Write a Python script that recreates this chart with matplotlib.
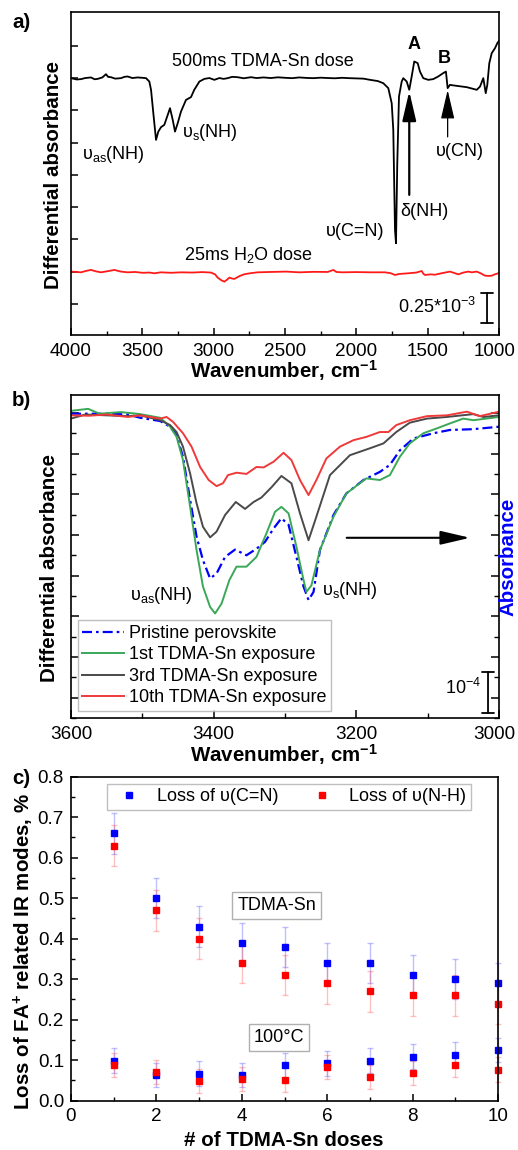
import numpy as np
import matplotlib
matplotlib.use('Agg')
import matplotlib.pyplot as plt
from matplotlib.ticker import MultipleLocator, FixedLocator, NullFormatter
from matplotlib.transforms import ScaledTranslation

plt.rcParams['font.family'] = ['Liberation Sans', 'DejaVu Sans']
plt.rcParams['mathtext.fontset'] = 'custom'
plt.rcParams['mathtext.rm'] = 'Liberation Sans'
plt.rcParams['mathtext.it'] = 'Liberation Sans:italic'
plt.rcParams['mathtext.bf'] = 'Liberation Sans:bold'
plt.rcParams['axes.linewidth'] = 1.2
FS = 13      # annotation / legend text
TFS = 13.6   # tick labels
LFS = 14.8   # bold axis labels

# ---------------- Panel a data (wavenumber cm-1, differential absorbance x1e-3, offset) ----
a_tdma_wn = [4000, 3960, 3930, 3900, 3860, 3835, 3813, 3780, 3755, 3740, 3720, 3690, 3650, 3625,
             3603, 3570, 3533, 3500, 3474, 3451, 3439, 3423, 3404, 3388, 3369, 3346, 3322, 3306,
             3287, 3271, 3252, 3229, 3194, 3159, 3136, 3100, 3065, 3030, 2995, 2960, 2930, 2902,
             2870, 2832, 2790, 2738, 2700, 2650, 2600, 2550, 2500, 2450, 2400, 2350, 2300, 2250,
             2200, 2150, 2100, 2050, 2000, 1950, 1904, 1850, 1811, 1776, 1752, 1741, 1729, 1722,
             1713, 1701, 1682, 1671, 1647, 1629, 1612, 1594, 1570, 1554, 1531, 1496, 1461, 1426,
             1391, 1372, 1360, 1344, 1297, 1226, 1156, 1133, 1110, 1093, 1082, 1068, 1051, 1028,
             1012, 1000]
a_tdma_abs = [2.139, 2.128, 2.131, 2.140, 2.145, 2.130, 2.133, 2.145, 2.172, 2.150, 2.147, 2.135,
              2.139, 2.150, 2.153, 2.140, 2.145, 2.142, 2.139, 2.111, 2.042, 1.848, 1.625, 1.694,
              1.731, 1.750, 1.833, 1.889, 1.792, 1.694, 1.764, 1.861, 1.958, 1.981, 2.042, 2.111,
              2.133, 2.140, 2.125, 2.140, 2.133, 2.139, 2.150, 2.147, 2.138, 2.147, 2.140, 2.145,
              2.140, 2.146, 2.142, 2.139, 2.145, 2.141, 2.139, 2.143, 2.140, 2.138, 2.142, 2.139,
              2.137, 2.135, 2.125, 2.115, 2.097, 2.056, 1.930, 1.708, 0.875, 0.764, 1.430, 1.986,
              2.111, 2.139, 2.111, 2.042, 2.153, 2.278, 2.264, 2.194, 2.139, 2.125, 2.131, 2.153,
              2.181, 2.194, 2.056, 2.083, 2.075, 2.064, 2.042, 2.069, 2.139, 2.014, 2.083, 2.264,
              2.347, 2.389, 2.430, 2.450]

a_h2o_wn = [4000, 3960, 3930, 3890, 3860, 3825, 3790, 3740, 3696, 3650, 3603, 3550, 3500, 3450,
            3416, 3370, 3300, 3229, 3150, 3080, 3019, 2990, 2972, 2945, 2925, 2905, 2890, 2870,
            2855, 2820, 2785, 2740, 2692, 2600, 2493, 2400, 2300, 2200, 2161, 2140, 2100, 2000,
            1900, 1799, 1760, 1729, 1700, 1636, 1580, 1542, 1530, 1519, 1480, 1449, 1400, 1343,
            1310, 1285, 1250, 1215, 1190, 1157, 1130, 1098, 1075, 1051, 1030, 1005, 1000]
a_h2o_abs = [0.528, 0.525, 0.522, 0.535, 0.542, 0.530, 0.522, 0.532, 0.542, 0.528, 0.522, 0.525,
             0.518, 0.520, 0.514, 0.522, 0.518, 0.522, 0.520, 0.524, 0.520, 0.505, 0.478, 0.455,
             0.444, 0.462, 0.478, 0.470, 0.467, 0.490, 0.506, 0.515, 0.522, 0.525, 0.528, 0.522,
             0.526, 0.525, 0.542, 0.525, 0.522, 0.524, 0.522, 0.522, 0.515, 0.500, 0.508, 0.514,
             0.520, 0.533, 0.510, 0.500, 0.505, 0.502, 0.515, 0.528, 0.515, 0.505, 0.520, 0.528,
             0.522, 0.528, 0.515, 0.494, 0.492, 0.494, 0.505, 0.514, 0.520]

# ---------------- Panel b data (x1e-4, offset) ----------------
b_red_wn = [3600, 3575, 3550, 3520, 3503, 3489, 3475, 3466, 3457, 3443, 3431, 3419, 3407, 3396,
            3387, 3380, 3368, 3354, 3340, 3330, 3316, 3302, 3291, 3279, 3267, 3256, 3242, 3223,
            3204, 3186, 3167, 3155, 3144, 3125, 3101, 3073, 3045, 3027, 3000]
b_red = [6.94, 6.93, 6.96, 6.90, 6.94, 6.90, 6.86, 6.90, 6.78, 6.50, 6.17, 5.67, 5.35, 5.20,
         5.27, 5.47, 5.53, 5.50, 5.67, 5.66, 5.80, 6.02, 5.84, 5.35, 4.98, 5.35, 5.88, 6.17,
         6.33, 6.41, 6.53, 6.53, 6.70, 6.82, 6.92, 6.94, 7.03, 6.92, 7.03]

b_gray_wn = [3600, 3580, 3550, 3520, 3503, 3475, 3461, 3452, 3443, 3433, 3424, 3415, 3405, 3396,
             3384, 3369, 3356, 3344, 3333, 3319, 3305, 3291, 3279, 3267, 3256, 3237, 3209, 3181,
             3162, 3144, 3125, 3101, 3073, 3036, 3022, 3000]
b_gray = [6.86, 6.96, 6.94, 6.92, 6.94, 6.82, 6.70, 6.53, 6.17, 5.51, 4.78, 4.20, 3.94, 4.08,
          4.49, 4.81, 4.64, 4.81, 4.92, 5.17, 5.45, 5.27, 4.53, 3.87, 4.45, 5.47, 5.96, 6.13,
          6.25, 6.53, 6.76, 6.86, 6.90, 6.97, 6.90, 6.94]

b_green_wn = [3600, 3576, 3560, 3530, 3503, 3475, 3461, 3452, 3443, 3433, 3424, 3415, 3405, 3398,
              3389, 3378, 3368, 3354, 3340, 3326, 3314, 3305, 3295, 3284, 3274, 3270, 3263, 3251,
              3232, 3214, 3186, 3167, 3153, 3139, 3125, 3106, 3087, 3069, 3050, 3036, 3000]
b_green = [7.05, 7.10, 6.98, 7.02, 6.97, 6.88, 6.66, 6.41, 5.84, 4.69, 3.63, 2.73, 2.23, 2.07,
           2.31, 2.89, 3.22, 3.22, 3.46, 4.04, 4.57, 4.69, 4.53, 3.71, 2.89, 2.60, 2.76, 3.63,
           4.45, 5.02, 5.39, 5.35, 5.47, 5.92, 6.25, 6.50, 6.62, 6.74, 6.86, 6.82, 6.90]

b_blue_wn = [3600, 3550, 3520, 3503, 3475, 3461, 3452, 3443, 3433, 3424, 3415, 3405, 3396, 3384,
             3370, 3354, 3340, 3328, 3316, 3305, 3295, 3284, 3274, 3267, 3260, 3251, 3232, 3214,
             3190, 3167, 3153, 3139, 3120, 3092, 3069, 3036, 3000]
b_blue = [6.98, 6.98, 6.96, 6.88, 6.80, 6.66, 6.45, 5.92, 4.86, 3.96, 3.38, 2.93, 3.05, 3.46,
          3.64, 3.50, 3.66, 3.83, 4.16, 4.41, 4.25, 3.46, 2.73, 2.40, 2.60, 3.63, 4.49, 5.02,
          5.35, 5.55, 5.72, 6.08, 6.37, 6.50, 6.58, 6.60, 6.66]

b_legend = ['Pristine perovskite', '1st TDMA-Sn exposure', '3rd TDMA-Sn exposure',
            '10th TDMA-Sn exposure']

# ---------------- Panel c data ----------------
doses = [1, 2, 3, 4, 5, 6, 7, 8, 9, 10]
cn_tdma = [0.66, 0.50, 0.43, 0.39, 0.38, 0.34, 0.34, 0.31, 0.30, 0.29]
nh_tdma = [0.63, 0.47, 0.40, 0.34, 0.31, 0.29, 0.27, 0.26, 0.26, 0.24]
err_tdma = [0.05] * 10
cn_100c = [0.099, 0.064, 0.067, 0.064, 0.087, 0.092, 0.099, 0.109, 0.114, 0.126]
nh_100c = [0.089, 0.071, 0.049, 0.054, 0.052, 0.084, 0.059, 0.069, 0.089, 0.077]
err_100c = [0.03] * 10
c_legend = ['Loss of υ(C=N)', 'Loss of υ(N-H)']

# ---------------- Figure ----------------
W, H = 518, 1150
fig = plt.figure(figsize=(W / 100, H / 100), dpi=100)

def fx(px):
    return px / W

def fy(py):
    return 1 - py / H

axa = fig.add_axes([fx(71), fy(335), 428 / W, 323 / H])
axb = fig.add_axes([fx(71), fy(718), 428 / W, 323 / H])
axc = fig.add_axes([fx(71), fy(1100.7), 427 / W, 324 / H])

# ---- Panel a ----
axa.plot(a_tdma_wn, a_tdma_abs, color='black', lw=1.3)
axa.plot(a_h2o_wn, a_h2o_abs, color='#ff1a1a', lw=1.3)
axa.set_xlim(4000, 1000)
axa.set_ylim(0, 2.69)
axa.xaxis.set_major_locator(MultipleLocator(500))
axa.xaxis.set_minor_locator(MultipleLocator(250))
axa.yaxis.set_major_locator(FixedLocator(list(np.arange(0.258, 2.5, 0.269))))
axa.yaxis.set_major_formatter(NullFormatter())
axa.tick_params(axis='both', which='major', direction='in', length=5, width=1.1,
                labelsize=TFS, pad=5.5, top=False, right=False)
axa.tick_params(axis='x', which='minor', direction='in', length=3, width=1.0, top=False)

axa.text(2654, 2.275, '500ms TDMA-Sn dose', fontsize=FS, ha='center', va='center')
axa.text(3706, 1.50, 'υ$_{\\rm as}$(NH)', fontsize=FS, ha='center', va='center')
axa.text(3222, 1.683, 'υ$_{\\rm s}$(NH)', fontsize=FS, ha='left', va='center')
axa.text(2759, 0.667, '25ms H$_2$O dose', fontsize=FS, ha='center', va='center')
axa.text(2009, 0.861, 'υ(C=N)', fontsize=FS, ha='center', va='center')
axa.text(1526, 1.028, 'δ(NH)', fontsize=FS, ha='center', va='center')
axa.text(1594, 2.417, 'A', fontsize=FS, ha='center', va='center', fontweight='bold')
axa.text(1385, 2.306, 'B', fontsize=FS, ha='center', va='center', fontweight='bold')
axa.text(1273, 1.528, 'υ(CN)', fontsize=FS, ha='center', va='center')
axa.text(1431, 0.236, '0.25*10$^{-3}$', fontsize=FS, ha='center', va='center')

axa.annotate('', xy=(1629, 2.03), xytext=(1629, 1.167),
             arrowprops=dict(arrowstyle='-|>,head_length=1.8,head_width=0.42', lw=1.6,
                             color='black', shrinkA=0, shrinkB=0, mutation_scale=10))
axa.annotate('', xy=(1360, 2.04), xytext=(1360, 1.65),
             arrowprops=dict(arrowstyle='-|>,head_length=1.8,head_width=0.42', lw=0.9,
                             color='black', shrinkA=0, shrinkB=0, mutation_scale=10))
axa.annotate('', xy=(1084, 0.10), xytext=(1084, 0.35),
             arrowprops=dict(arrowstyle='|-|,widthA=0.4,widthB=0.4', lw=1.3,
                             color='black', shrinkA=0, shrinkB=0, mutation_scale=10))

# ---- Panel b ----
colors_b = ['#0000ff', '#3aa857', '#4a4a4a', '#f03a3a']
lb1, = axb.plot(b_blue_wn, b_blue, color=colors_b[0], lw=1.6, dashes=(4.5, 1.8, 1.2, 1.8))
lb2, = axb.plot(b_green_wn, b_green, color=colors_b[1], lw=1.4)
lb3, = axb.plot(b_gray_wn, b_gray, color=colors_b[2], lw=1.4)
lb4, = axb.plot(b_red_wn, b_red, color=colors_b[3], lw=1.4)
axb.set_xlim(3600, 3000)
axb.set_ylim(-0.5, 7.44)
axb.xaxis.set_major_locator(MultipleLocator(200))
axb.xaxis.set_minor_locator(MultipleLocator(100))
axb.yaxis.set_major_locator(MultipleLocator(1))
axb.yaxis.set_minor_locator(MultipleLocator(0.5))
axb.yaxis.set_major_formatter(NullFormatter())
axb.tick_params(axis='both', which='major', direction='in', length=6, width=1.1,
                labelsize=TFS, pad=5.5, top=False, right=True)
axb.tick_params(axis='both', which='minor', direction='in', length=3.5, width=1.0,
                top=False, right=True)
leg_b = axb.legend([lb1, lb2, lb3, lb4], b_legend, loc='lower left',
                   bbox_to_anchor=(0.016, 0.022), borderaxespad=0, fontsize=FS,
                   handlelength=2.3, handletextpad=0.3, labelspacing=0.25,
                   borderpad=0.25, frameon=True, fancybox=False)
leg_b.get_frame().set_edgecolor('#b0b0b0')
leg_b.get_frame().set_linewidth(1.0)

axb.text(3473, 2.52, 'υ$_{\\rm as}$(NH)', fontsize=FS, ha='center', va='center')
axb.text(3209.6, 2.64, 'υ$_{\\rm s}$(NH)', fontsize=FS, ha='center', va='center')
axb.text(3025, 0.25, '10$^{-4}$', fontsize=FS, ha='right', va='center')
axb.annotate('', xy=(3040.6, 3.93), xytext=(3213.5, 3.93),
             arrowprops=dict(arrowstyle='-|>,head_length=1.8,head_width=0.42', lw=1.5,
                             color='black', shrinkA=0, shrinkB=0, mutation_scale=10))
axb.annotate('', xy=(3015.4, -0.37), xytext=(3015.4, 0.63),
             arrowprops=dict(arrowstyle='|-|,widthA=0.4,widthB=0.4', lw=1.3,
                             color='black', shrinkA=0, shrinkB=0, mutation_scale=10))

# ---- Panel c ----
eb1 = axc.errorbar(doses, cn_tdma, yerr=err_tdma, fmt='s', color='#0000ff', ms=4.3,
                   ecolor=(0.3, 0.3, 1.0, 0.35), elinewidth=1.0, capsize=2.5, clip_on=False)
eb2 = axc.errorbar(doses, nh_tdma, yerr=err_tdma, fmt='s', color='#ff0000', ms=4.3,
                   ecolor=(1.0, 0.3, 0.3, 0.35), elinewidth=1.0, capsize=2.5, clip_on=False)
eb3 = axc.errorbar(doses, cn_100c, yerr=err_100c, fmt='s', color='#0000ff', ms=4.3,
                   ecolor=(0.3, 0.3, 1.0, 0.35), elinewidth=1.0, capsize=2.5, clip_on=False)
eb4 = axc.errorbar(doses, nh_100c, yerr=err_100c, fmt='s', color='#ff0000', ms=4.3,
                   ecolor=(1.0, 0.3, 0.3, 0.35), elinewidth=1.0, capsize=2.5, clip_on=False)
axc.set_xlim(0, 10)
axc.set_ylim(0, 0.8)
axc.xaxis.set_major_locator(MultipleLocator(2))
axc.xaxis.set_minor_locator(MultipleLocator(1))
axc.yaxis.set_major_locator(MultipleLocator(0.1))
axc.yaxis.set_minor_locator(MultipleLocator(0.05))
axc.yaxis.set_major_formatter(plt.FuncFormatter(lambda v, p: f'{v:.1f}'))
axc.tick_params(axis='both', which='major', direction='in', length=5, width=1.1,
                labelsize=TFS, pad=5, top=False, right=False)
axc.tick_params(axis='both', which='minor', direction='in', length=3, width=1.0,
                top=False, right=False)
leg_c = axc.legend([eb1[0], eb2[0]], c_legend, loc='upper left', ncol=2,
                   bbox_to_anchor=(0.084, 0.978), borderaxespad=0, fontsize=FS,
                   handlelength=2.0, handletextpad=0.5, columnspacing=1.45,
                   borderpad=0.25, frameon=True, fancybox=False, markerscale=1.0)
leg_c.get_frame().set_edgecolor('#b0b0b0')
leg_c.get_frame().set_linewidth(1.0)

box = dict(boxstyle='square,pad=0.28', fc='white', ec='#b0b0b0', lw=1.0)
axc.text(4.82, 0.483, 'TDMA-Sn', fontsize=FS, ha='center', va='center', bbox=box)
axc.text(4.87, 0.155, '100°C', fontsize=FS, ha='center', va='center', bbox=box)

# ---- labels ----
fig.text(fx(54), fy(175), 'Differential absorbance', rotation=90, fontsize=LFS,
         fontweight='bold', ha='center', va='center')
fig.text(fx(49.5), fy(568), 'Differential absorbance', rotation=90, fontsize=LFS,
         fontweight='bold', ha='center', va='center')
fig.text(fx(23.5), fy(952), 'Loss of FA$^{\\mathbf{+}}$ related IR modes, %', rotation=90,
         fontsize=LFS, fontweight='bold', ha='center', va='center')
fig.text(fx(508), fy(557), 'Absorbance', rotation=90, fontsize=LFS, fontweight='bold',
         color='#0000ff', ha='center', va='center')
fig.text(fx(284), fy(371), 'Wavenumber, cm$^{\\mathbf{-1}}$', fontsize=LFS, fontweight='bold',
         ha='center', va='center')
fig.text(fx(284), fy(755), 'Wavenumber, cm$^{\\mathbf{-1}}$', fontsize=LFS, fontweight='bold',
         ha='center', va='center')
fig.text(fx(284), fy(1140), '# of TDMA-Sn doses', fontsize=LFS, fontweight='bold',
         ha='center', va='center')
fig.text(fx(12), fy(23), 'a)', fontsize=LFS, fontweight='bold', ha='left', va='center')
fig.text(fx(12), fy(400), 'b)', fontsize=LFS, fontweight='bold', ha='left', va='center')
fig.text(fx(12), fy(778), 'c)', fontsize=LFS, fontweight='bold', ha='left', va='center')

# keep the right-most wavenumber tick labels inside the image
fig.canvas.draw()
shift = ScaledTranslation(-3.5 / 72, 0, fig.dpi_scale_trans)
for ax, last in ((axa, 1000), (axb, 3000)):
    for tick in ax.xaxis.get_major_ticks():
        if abs(tick.get_loc() - last) < 1e-6:
            tick.label1.set_transform(tick.label1.get_transform() + shift)

fig.savefig('out.png', dpi=100)
